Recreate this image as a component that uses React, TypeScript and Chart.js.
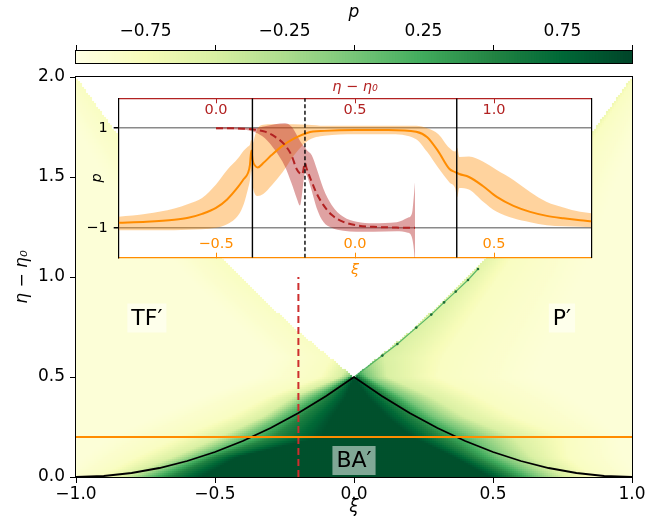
import React, { useEffect, useRef } from 'react';
import { Chart, registerables } from 'chart.js';

Chart.register(...registerables);

// ---------------- data ----------------
const xiTicks = [-1, -0.5, 0, 0.5, 1];
const etaTicks = [0, 0.5, 1, 1.5, 2];
const colorbarTicks = [-0.75, -0.25, 0.25, 0.75];
const insetXiTicks = [-0.5, 0, 0.5];
const insetEtaTicks = [0, 0.5, 1];
const insetPTicks = [-1, 1];

// black boundary of BA′
const curveXi = [-1, -0.9, -0.8, -0.7, -0.6, -0.5, -0.4, -0.3, -0.2, -0.1, 0, 0.1, 0.2, 0.3, 0.4, 0.5, 0.6, 0.7, 0.8, 0.9, 1];
const curveEta = [0, 0.005, 0.02, 0.045, 0.08, 0.125, 0.18, 0.245, 0.32, 0.405, 0.5, 0.405, 0.32, 0.245, 0.18, 0.125, 0.08, 0.045, 0.02, 0.005, 0];

// cuts
const cutEta = 0.2;
const cutXiRange = [-1, 1];
const cutXi = -0.2;
const cutEtaRange = [0, 1.0];

// empty (white) wedge above the apex
const wedgeEta = [0.5, 0.75, 1.0, 1.25, 1.5, 1.75, 2.0];
const wedgeLeftXi = [0, -0.22, -0.41, -0.58, -0.73, -0.87, -1.0];
const wedgeRightXi = [0, 0.22, 0.41, 0.58, 0.73, 0.87, 1.0];

// green dotted edge on the right of the wedge
const edgeXi = [0.0, 0.102, 0.156, 0.224, 0.278, 0.324, 0.366, 0.41, 0.446];
const edgeEta = [0.5, 0.607, 0.665, 0.747, 0.812, 0.873, 0.927, 0.985, 1.04];

// heat-map isolines of p (xi of each level, per eta row)
const fieldEta = [0, 0.1, 0.2, 0.3, 0.4, 0.5, 0.6, 0.8, 1.0, 1.5, 2.0];
const isoLevels = [0.92, 0.5, 0, -0.5, -0.8, -0.92];
const leftIso = [
  [-0.55, -0.66, -0.75, -0.83, -0.92, -1.05],
  [-0.42, -0.5, -0.57, -0.65, -0.78, -0.97],
  [-0.12, -0.285, -0.398, -0.485, -0.63, -0.88],
  [-0.08, -0.19, -0.27, -0.33, -0.45, -0.72],
  [-0.03, -0.1, -0.16, -0.22, -0.31, -0.55],
  [0.0, -0.01, -0.02, -0.05, -0.12, -0.35],
  [0.1, 0.1, 0.1, 0.0, -0.08, -0.3],
  [0.1, 0.1, 0.1, 0.0, -0.24, -0.45],
  [0.1, 0.1, 0.1, 0.0, -0.41, -0.6],
  [0.1, 0.1, 0.1, 0.0, -0.73, -0.9],
  [0.1, 0.1, 0.1, 0.0, -1.0, -1.1],
];
const rightIso = [
  [0.49, 0.57, 0.66, 0.76, 0.86, 1.02],
  [0.36, 0.43, 0.52, 0.64, 0.77, 0.97],
  [0.21, 0.31, 0.43, 0.575, 0.76, 0.95],
  [0.12, 0.21, 0.29, 0.4, 0.58, 0.88],
  [0.05, 0.12, 0.18, 0.28, 0.45, 0.78],
  [0.0, 0.02, 0.05, 0.12, 0.3, 0.65],
  [-0.1, -0.1, 0.0, 0.11, 0.32, 0.68],
  [-0.1, -0.1, 0.1, 0.25, 0.42, 0.75],
  [-0.1, -0.1, 0.2, 0.38, 0.52, 0.82],
  [-0.1, -0.1, 0.5, 0.71, 0.77, 0.95],
  [-0.1, -0.1, 0.8, 0.98, 1.01, 1.1],
];

// region labels
const regionText = ['TF\u2032', 'P\u2032', 'BA\u2032'];
const regionXi = [-0.745, 0.748, 0.0];
const regionEta = [0.795, 0.795, 0.0825];

// inset: p along eta - eta0 = 0.2 (orange, vs xi)
const orangeXi = [-0.85, -0.75, -0.65, -0.6, -0.55, -0.5, -0.46, -0.42, -0.4, -0.385, -0.378, -0.373, -0.368, -0.36, -0.35, -0.33, -0.3, -0.26, -0.22, -0.17, -0.11, 0, 0.12, 0.22, 0.26, 0.3, 0.34, 0.36, 0.368, 0.375, 0.41, 0.46, 0.51, 0.57, 0.63, 0.69, 0.75, 0.81, 0.85];
const orangeMean = [-0.9, -0.88, -0.84, -0.8, -0.72, -0.6, -0.43, -0.175, -0.02, 0.1, 0.26, 0.55, 0.35, 0.25, 0.21, 0.3, 0.46, 0.65, 0.79, 0.91, 0.946, 0.966, 0.966, 0.93, 0.82, 0.53, 0.18, 0.12, 0.1, 0.08, 0.02, -0.16, -0.38, -0.56, -0.68, -0.76, -0.81, -0.85, -0.87];
const orangeUpper = [-0.78, -0.72, -0.61, -0.52, -0.4, -0.13, 0.16, 0.4, 0.55, 0.63, 0.67, 0.77, 0.7, 0.85, 1.0, 1.07, 1.08, 1.08, 1.08, 1.07, 1.05, 1.05, 1.05, 1.05, 1.0, 0.88, 0.6, 0.53, 0.6, 0.42, 0.43, 0.33, 0.16, -0.04, -0.28, -0.48, -0.59, -0.68, -0.71];
const orangeLower = [-1.05, -1.05, -1.05, -1.04, -1.03, -1.0, -0.93, -0.75, -0.52, -0.22, -0.05, 0.14, -0.15, -0.32, -0.36, -0.32, -0.15, 0.12, 0.45, 0.75, 0.85, 0.88, 0.88, 0.78, 0.52, 0.2, -0.09, -0.2, -0.38, -0.2, -0.23, -0.47, -0.68, -0.81, -0.89, -0.95, -0.97, -0.98, -0.99];

// inset: p along xi = -0.2 (red, vs eta - eta0)
const redEta = [0, 0.1, 0.14, 0.176, 0.212, 0.248, 0.272, 0.29, 0.302, 0.31, 0.32, 0.326, 0.344, 0.362, 0.386, 0.416, 0.458, 0.506, 0.566, 0.65, 0.69, 0.705, 0.712, 0.716];
const redMean = [1.0, 0.99, 0.97, 0.93, 0.83, 0.66, 0.45, 0.18, 0.09, 0.07, 0.3, 0.19, -0.07, -0.31, -0.54, -0.74, -0.88, -0.95, -0.98, -0.995, -1.0, -1.0, -1.0, -1.0];
const redUpper = [1.02, 1.01, 1.0, 1.04, 1.08, 1.1, 1.03, 0.87, 0.75, 0.68, 0.62, 0.56, 0.46, 0.19, -0.21, -0.54, -0.78, -0.88, -0.91, -0.89, -0.8, -0.71, -0.34, -0.07];
const redLower = [0.98, 0.97, 0.92, 0.8, 0.56, 0.23, -0.11, -0.4, -0.55, -0.3, 0.1, 0.06, -0.25, -0.6, -0.88, -1.0, -1.06, -1.08, -1.08, -1.07, -1.1, -1.2, -1.45, -1.75];

const insetSolidXi = [-0.369, 0.366];
const insetDashedEta = 0.32;

// ---------------- style helpers ----------------
const FONT = '"DejaVu Sans", "Liberation Sans", Arial, sans-serif';
const MINUS = '\u2212';
const ORANGE = '#ff8c00';
const RED = '#b22222';
const fmt = (v: number, d: number) => (Math.abs(v) < 1e-9 ? 0 : v).toFixed(d).replace('-', MINUS);

const YLGN = ['#ffffe5', '#f7fcb9', '#d9f0a3', '#addd8e', '#78c679', '#41ab5d', '#238443', '#006837', '#004529'];
const YLGN_RGB = YLGN.map((h) => [1, 3, 5].map((i) => parseInt(h.slice(i, i + 2), 16)));
function colorFor(p: number): string {
  const t = Math.min(1, Math.max(0, (p + 1) / 2)) * 8;
  const i = Math.min(7, Math.floor(t));
  const f = t - i;
  const a = YLGN_RGB[i];
  const b = YLGN_RGB[i + 1];
  return `rgb(${Math.round(a[0] + (b[0] - a[0]) * f)},${Math.round(a[1] + (b[1] - a[1]) * f)},${Math.round(a[2] + (b[2] - a[2]) * f)})`;
}

function interp(xs: number[], ys: number[], x: number): number {
  if (x <= xs[0]) return ys[0];
  for (let i = 0; i < xs.length - 1; i++) {
    if (x <= xs[i + 1]) {
      const t = (x - xs[i]) / (xs[i + 1] - xs[i]);
      return ys[i] + t * (ys[i + 1] - ys[i]);
    }
  }
  return ys[ys.length - 1];
}

function fieldValue(xi: number, eta: number): number | null {
  let left: boolean;
  if (eta > wedgeEta[0]) {
    const l = interp(wedgeEta, wedgeLeftXi, eta);
    const r = interp(wedgeEta, wedgeRightXi, eta);
    if (xi > l && xi < r) return null;
    left = xi <= l;
  } else {
    left = xi < 0;
  }
  const table = left ? leftIso : rightIso;
  const q = isoLevels.map((_, k) => {
    const v = interp(fieldEta, table.map((row) => row[k]), eta);
    return left ? -v : v;
  });
  const d = left ? -xi : xi;
  if (d <= q[0]) return isoLevels[0];
  for (let k = 0; k < q.length - 1; k++) {
    if (d <= q[k + 1]) {
      const span = q[k + 1] - q[k];
      if (span < 1e-9) return isoLevels[k + 1];
      const t = (d - q[k]) / span;
      return isoLevels[k] + t * (isoLevels[k + 1] - isoLevels[k]);
    }
  }
  return isoLevels[isoLevels.length - 1];
}

// one cell per 2 px of the 556 x 400 plot area
const HEAT_NX = 278;
const HEAT_NY = 200;
function buildHeatmap() {
  const data: { x: number; y: number }[] = [];
  const colors: string[] = [];
  for (let j = 0; j < HEAT_NY; j++) {
    const eta = ((j + 0.5) * 2) / HEAT_NY;
    for (let i = 0; i < HEAT_NX; i++) {
      const xi = -1 + ((i + 0.5) * 2) / HEAT_NX;
      const p = fieldValue(xi, eta);
      if (p === null) continue;
      data.push({ x: xi, y: eta });
      colors.push(colorFor(p));
    }
  }
  return { data, colors };
}

const pts = (xs: number[], ys: number[]) => xs.map((x, i) => ({ x, y: ys[i] }));

export default function App() {
  const mainRef = useRef<HTMLCanvasElement>(null);
  const cbRef = useRef<HTMLCanvasElement>(null);
  const insetRef = useRef<HTMLCanvasElement>(null);

  useEffect(() => {
    document.body.style.margin = '0';
    const charts: Chart[] = [];
    const heat = buildHeatmap();

    const mainDecor = {
      id: 'mainDecor',
      afterDatasetsDraw(chart: any) {
        const { ctx, chartArea: a, scales } = chart;
        ctx.save();
        ctx.font = `22px ${FONT}`;
        ctx.textAlign = 'center';
        ctx.textBaseline = 'middle';
        regionText.forEach((t, i) => {
          const x = scales.x.getPixelForValue(regionXi[i]);
          const y = scales.y.getPixelForValue(regionEta[i]);
          const w = ctx.measureText(t).width;
          ctx.fillStyle = 'rgba(255,255,255,0.5)';
          ctx.fillRect(x - w / 2 - 4, y - 14.5, w + 8, 29);
          ctx.fillStyle = '#000';
          ctx.fillText(t, x, y + 1);
        });
        ctx.strokeStyle = '#000';
        ctx.lineWidth = 1;
        ctx.strokeRect(Math.round(a.left) - 0.5, Math.round(a.top) - 0.5, Math.round(a.right - a.left) + 1, Math.round(a.bottom - a.top) + 1);
        ctx.restore();
      },
    };

    const tickFont = { family: FONT, size: 17 };
    const titleFont = { family: FONT, size: 17, style: 'italic' as const };

    charts.push(
      new Chart(mainRef.current!, {
        type: 'scatter',
        data: {
          datasets: [
            { data: pts(curveXi, curveEta), showLine: true, borderColor: '#000', borderWidth: 1.8, pointRadius: 0, order: 2 } as any,
            { data: pts(cutXiRange, [cutEta, cutEta]), showLine: true, borderColor: ORANGE, borderWidth: 2.2, pointRadius: 0, order: 1 },
            { data: pts([cutXi, cutXi], cutEtaRange), showLine: true, borderColor: '#cd2e2e', borderWidth: 2, borderDash: [7, 4], pointRadius: 0, order: 1 },
            {
              data: pts(edgeXi, edgeEta), showLine: true, borderColor: 'rgba(65,171,93,0.85)', borderWidth: 1.2,
              pointRadius: edgeXi.map((_, i) => (i === 0 ? 0 : 1.3)), pointBackgroundColor: '#1d6b38', pointBorderWidth: 0, order: 3,
            },
            {
              data: heat.data, showLine: false, pointStyle: 'rect', pointRadius: 1.5, pointBorderWidth: 0,
              pointBackgroundColor: heat.colors, order: 10, clip: 0, parsing: false, normalized: true,
            } as any,
          ],
        },
        options: {
          responsive: false,
          devicePixelRatio: 1,
          animation: false,
          events: [],
          layout: { padding: { left: 0, top: 77, right: 32, bottom: 0 } },
          plugins: { legend: { display: false }, tooltip: { enabled: false } },
          scales: {
            x: {
              type: 'linear', min: -1, max: 1,
              afterBuildTicks: (s: any) => { s.ticks = xiTicks.map((v) => ({ value: v })); },
              afterFit: (s: any) => { s.height = 54; },
              ticks: { callback: (v: any) => fmt(Number(v), 1), font: tickFont, color: '#000', padding: 1, maxRotation: 0, autoSkip: false },
              grid: { display: true, drawOnChartArea: false, drawTicks: true, tickLength: 6, color: '#000', lineWidth: 1 },
              border: { display: false },
              title: { display: true, text: '\u03be', font: titleFont, color: '#000', padding: { top: 0, bottom: 13 } },
            },
            y: {
              type: 'linear', min: 0, max: 2,
              afterBuildTicks: (s: any) => { s.ticks = etaTicks.map((v) => ({ value: v })); },
              afterFit: (s: any) => { s.width = 76; },
              ticks: { callback: (v: any) => fmt(Number(v), 1), font: tickFont, color: '#000', padding: 5, autoSkip: false },
              grid: { display: true, drawOnChartArea: false, drawTicks: true, tickLength: 6, color: '#000', lineWidth: 1 },
              border: { display: false },
              title: { display: true, text: '\u03b7 \u2212 \u03b7\u2080', font: titleFont, color: '#000', padding: { top: 12, bottom: 0 } },
            },
          },
        } as any,
        plugins: [mainDecor],
      })
    );

    // colour bar
    const cbSamples: number[] = [];
    for (let i = 0; i < 200; i++) cbSamples.push(-1 + (i + 0.5) * 0.01);
    const cbFrame = {
      id: 'cbFrame',
      afterDatasetsDraw(chart: any) {
        const { ctx, chartArea: a } = chart;
        ctx.save();
        ctx.strokeStyle = '#000';
        ctx.lineWidth = 1;
        ctx.strokeRect(Math.round(a.left) - 0.5, Math.round(a.top) - 0.5, Math.round(a.right - a.left) + 1, Math.round(a.bottom - a.top) + 1);
        ctx.restore();
      },
    };
    charts.push(
      new Chart(cbRef.current!, {
        type: 'bar',
        data: {
          datasets: [
            { data: cbSamples.map((v) => ({ x: v, y: 1 })), backgroundColor: cbSamples.map(colorFor), borderWidth: 0, barThickness: 3.4 } as any,
          ],
        },
        options: {
          responsive: false,
          devicePixelRatio: 1,
          animation: false,
          events: [],
          layout: { padding: { left: 76, right: 32, top: 0, bottom: 6.7 } },
          plugins: { legend: { display: false }, tooltip: { enabled: false } },
          scales: {
            x: {
              type: 'linear', position: 'top', min: -1, max: 1, offset: false,
              afterBuildTicks: (s: any) => { s.ticks = colorbarTicks.map((v) => ({ value: v })); },
              afterFit: (s: any) => { s.height = 51; },
              ticks: { callback: (v: any) => fmt(Number(v), 2), font: tickFont, color: '#000', padding: 3, maxRotation: 0, autoSkip: false },
              grid: { display: true, drawOnChartArea: false, drawTicks: true, tickLength: 6, color: '#000', lineWidth: 1 },
              border: { display: false },
              title: { display: true, text: 'p', font: titleFont, color: '#000', padding: { top: 2, bottom: 0 } },
            },
            y: { display: false, min: 0, max: 1 },
          },
        } as any,
        plugins: [cbFrame],
      })
    );

    // inset
    const insetBg = {
      id: 'insetBg',
      beforeDraw(chart: any) {
        const { ctx, chartArea: a } = chart;
        ctx.save();
        ctx.fillStyle = '#fff';
        ctx.fillRect(a.left, a.top, a.right - a.left, a.bottom - a.top);
        ctx.restore();
      },
    };
    const iTick = { family: FONT, size: 14.5 };
    const iTitle = { family: FONT, size: 14.5, style: 'italic' as const };
    const lineBase = { showLine: true, pointRadius: 0, cubicInterpolationMode: 'monotone' };
    charts.push(
      new Chart(insetRef.current!, {
        type: 'scatter',
        data: {
          datasets: [
            { ...lineBase, data: pts(orangeXi, orangeLower), borderWidth: 0, fill: false, order: 6, xAxisID: 'x' },
            { ...lineBase, data: pts(orangeXi, orangeUpper), borderWidth: 0, fill: '-1', backgroundColor: 'rgba(255,140,0,0.38)', order: 6, xAxisID: 'x' },
            { ...lineBase, data: pts(redEta, redLower), borderWidth: 0, fill: false, order: 5, xAxisID: 'x2' },
            { ...lineBase, data: pts(redEta, redUpper), borderWidth: 0, fill: '-1', backgroundColor: 'rgba(178,34,34,0.42)', order: 5, xAxisID: 'x2' },
            { ...lineBase, data: pts(orangeXi, orangeMean), borderColor: ORANGE, borderWidth: 2, order: 3, xAxisID: 'x' },
            { ...lineBase, data: pts(redEta, redMean), borderColor: RED, borderWidth: 2, borderDash: [7, 4], order: 2, xAxisID: 'x2' },
            { showLine: true, pointRadius: 0, data: pts([insetSolidXi[0], insetSolidXi[0]], [-1.6, 1.6]), borderColor: '#000', borderWidth: 1.4, order: 1, xAxisID: 'x' },
            { showLine: true, pointRadius: 0, data: pts([insetSolidXi[1], insetSolidXi[1]], [-1.6, 1.6]), borderColor: '#000', borderWidth: 1.4, order: 1, xAxisID: 'x' },
            { showLine: true, pointRadius: 0, data: pts([insetDashedEta, insetDashedEta], [-1.6, 1.6]), borderColor: '#000', borderWidth: 1.4, borderDash: [4, 2.5], order: 1, xAxisID: 'x2' },
          ] as any,
        },
        options: {
          responsive: false,
          devicePixelRatio: 1,
          animation: false,
          events: [],
          layout: { padding: 0 },
          plugins: { legend: { display: false }, tooltip: { enabled: false } },
          scales: {
            x: {
              type: 'linear', position: 'bottom', min: -0.85, max: 0.85,
              afterBuildTicks: (s: any) => { s.ticks = insetXiTicks.map((v) => ({ value: v })); },
              afterFit: (s: any) => { s.height = 28.3; },
              ticks: { mirror: true, padding: 5, color: ORANGE, font: iTick, callback: (v: any) => fmt(Number(v), 1), maxRotation: 0, autoSkip: false },
              grid: { display: true, drawOnChartArea: false, drawTicks: true, tickLength: -5, color: ORANGE, lineWidth: 1 },
              border: { display: true, color: ORANGE, width: 1.3 },
              title: { display: true, text: '\u03be', color: ORANGE, font: iTitle, padding: { top: 0, bottom: 7 } },
            },
            x2: {
              type: 'linear', position: 'top', min: -0.35, max: 1.35,
              afterBuildTicks: (s: any) => { s.ticks = insetEtaTicks.map((v) => ({ value: v })); },
              afterFit: (s: any) => { s.height = 22.3; },
              ticks: { mirror: true, padding: 3, color: RED, font: iTick, callback: (v: any) => fmt(Number(v), 1), maxRotation: 0, autoSkip: false },
              grid: { display: true, drawOnChartArea: false, drawTicks: true, tickLength: -5, color: RED, lineWidth: 1 },
              border: { display: true, color: RED, width: 1.3 },
              title: { display: true, text: '\u03b7 \u2212 \u03b7\u2080', color: RED, font: iTitle, padding: { top: 3, bottom: 0 } },
            },
            y: {
              type: 'linear', position: 'left', min: -1.6, max: 1.6,
              afterBuildTicks: (s: any) => { s.ticks = insetPTicks.map((v) => ({ value: v })); },
              afterFit: (s: any) => { s.width = 62.7; },
              ticks: { padding: 6, color: '#000', font: iTick, callback: (v: any) => (Number(v) > 0 ? '1' : MINUS + '1'), autoSkip: false },
              grid: { display: true, drawOnChartArea: true, drawTicks: true, tickLength: 5, color: '#8a8a8a', tickColor: '#000', lineWidth: 1.5 },
              border: { display: true, color: '#000', width: 1.2 },
              title: { display: true, text: 'p', color: '#000', font: iTitle, padding: { top: 33, bottom: 0 } },
            },
            y2: {
              type: 'linear', position: 'right', min: -1.6, max: 1.6,
              afterFit: (s: any) => { s.width = 24.7; },
              ticks: { display: false },
              grid: { display: false },
              border: { display: true, color: '#000', width: 1.2 },
            },
          },
        } as any,
        plugins: [insetBg],
      })
    );

    return () => charts.forEach((c) => c.destroy());
  }, []);

  return (
    <div style={{ position: 'fixed', left: 0, top: 0, width: 664, height: 531, background: '#fff', overflow: 'hidden' }}>
      <canvas ref={mainRef} width={664} height={531} style={{ position: 'absolute', left: 0, top: 0 }} />
      <canvas ref={cbRef} width={664} height={70} style={{ position: 'absolute', left: 0, top: 0 }} />
      <canvas ref={insetRef} width={560} height={210} style={{ position: 'absolute', left: 56, top: 76 }} />
    </div>
  );
}
